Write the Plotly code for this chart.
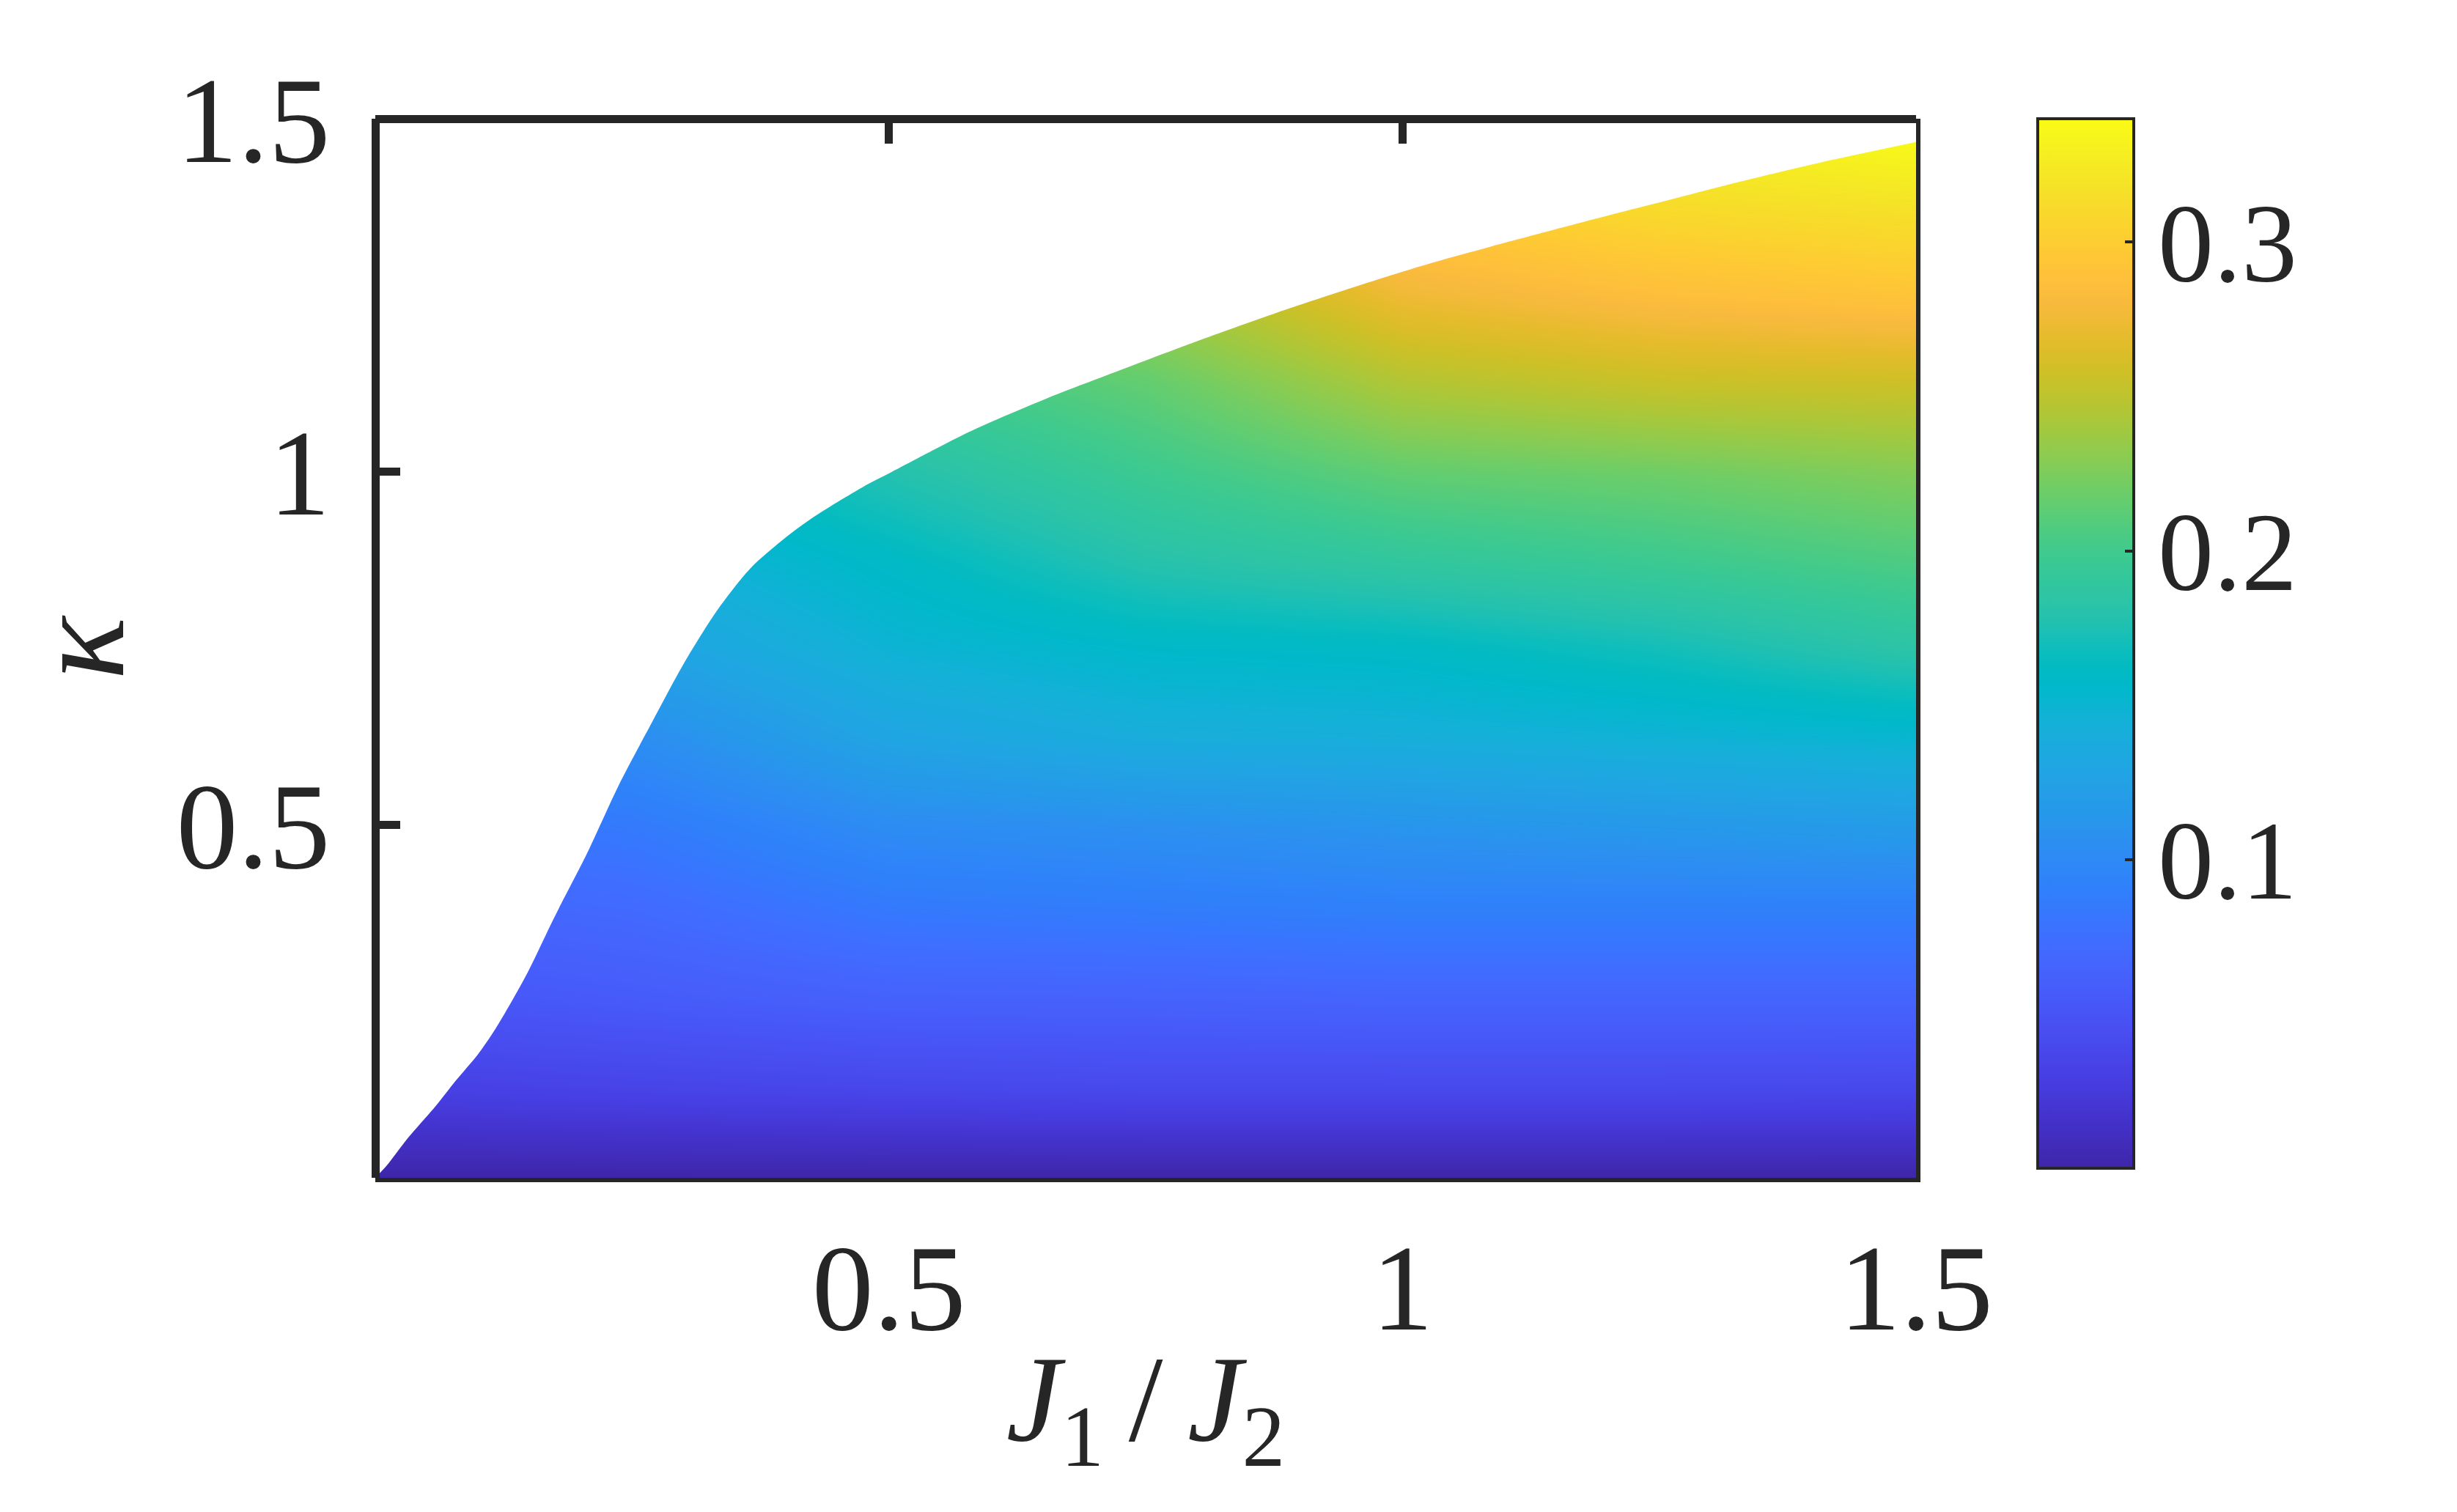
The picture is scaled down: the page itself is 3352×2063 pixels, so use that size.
import plotly.graph_objects as go

# ---------------- data ----------------
J_GRID = [0.0, 0.25, 0.5, 0.75, 1.0, 1.25, 1.5]
KAPPA_GRID = [0.0, 0.125, 0.25, 0.375, 0.5, 0.625, 0.75, 0.875, 1.0, 1.125, 1.25, 1.375, 1.5]

# colour value per kappa row (columns follow J_GRID)
Z_K0000 = [0.000, 0.000, 0.000, 0.000, 0.000, 0.000, 0.000]
Z_K0125 = [0.030, 0.034, 0.037, 0.039, 0.039, 0.039, 0.038]
Z_K0250 = [0.050, 0.056, 0.062, 0.063, 0.065, 0.065, 0.065]
Z_K0375 = [0.064, 0.070, 0.083, 0.086, 0.089, 0.089, 0.089]
Z_K0500 = [0.078, 0.085, 0.103, 0.107, 0.112, 0.116, 0.120]
Z_K0625 = [0.092, 0.104, 0.130, 0.140, 0.142, 0.147, 0.152]
Z_K0750 = [0.110, 0.127, 0.148, 0.157, 0.160, 0.170, 0.184]
Z_K0875 = [0.126, 0.142, 0.160, 0.180, 0.190, 0.198, 0.207]
Z_K1000 = [0.140, 0.157, 0.178, 0.198, 0.215, 0.220, 0.228]
Z_K1125 = [0.156, 0.174, 0.198, 0.215, 0.245, 0.255, 0.257]
Z_K1250 = [0.172, 0.192, 0.218, 0.240, 0.275, 0.286, 0.292]
Z_K1375 = [0.188, 0.210, 0.238, 0.265, 0.300, 0.312, 0.318]
Z_K1500 = [0.204, 0.228, 0.258, 0.290, 0.325, 0.335, 0.345]

# phase boundary kappa_c(J1/J2); region above it is empty
J_BOUND = [0.0, 0.011, 0.031, 0.059, 0.078, 0.100, 0.117, 0.148, 0.174, 0.206, 0.237,
           0.269, 0.301, 0.333, 0.365, 0.397, 0.428, 0.479, 0.503, 0.579, 0.654,
           0.729, 0.804, 0.879, 0.954, 1.029, 1.104, 1.179, 1.254, 1.329, 1.404, 1.5]
K_BOUND = [0.0, 0.017, 0.055, 0.102, 0.137, 0.175, 0.211, 0.290, 0.368, 0.459, 0.556,
           0.644, 0.730, 0.804, 0.863, 0.904, 0.937, 0.982, 1.000, 1.057, 1.104,
           1.146, 1.187, 1.226, 1.262, 1.296, 1.326, 1.355, 1.383, 1.411, 1.437, 1.467]

X_TICKS = [0.5, 1, 1.5]
Y_TICKS = [0.5, 1, 1.5]
C_TICKS = [0.1, 0.2, 0.3]
X_RANGE = [0.0, 1.5]
Y_RANGE = [0.0, 1.5]
C_RANGE = [0.0, 0.34]

# ---------------- style ----------------
PARULA = [
    (0.2422, 0.1504, 0.6603), (0.2504, 0.1650, 0.7076), (0.2578, 0.1818, 0.7511),
    (0.2647, 0.1978, 0.7952), (0.2706, 0.2147, 0.8364), (0.2751, 0.2342, 0.8710),
    (0.2783, 0.2559, 0.8991), (0.2803, 0.2782, 0.9221), (0.2813, 0.3006, 0.9414),
    (0.2810, 0.3228, 0.9579), (0.2795, 0.3447, 0.9717), (0.2760, 0.3667, 0.9829),
    (0.2699, 0.3892, 0.9906), (0.2602, 0.4123, 0.9952), (0.2440, 0.4358, 0.9988),
    (0.2206, 0.4603, 0.9973), (0.1963, 0.4847, 0.9892), (0.1834, 0.5074, 0.9798),
    (0.1786, 0.5289, 0.9682), (0.1764, 0.5499, 0.9520), (0.1687, 0.5703, 0.9359),
    (0.1540, 0.5902, 0.9218), (0.1460, 0.6091, 0.9079), (0.1380, 0.6276, 0.8973),
    (0.1248, 0.6459, 0.8883), (0.1113, 0.6635, 0.8763), (0.0952, 0.6798, 0.8598),
    (0.0689, 0.6948, 0.8394), (0.0297, 0.7082, 0.8163), (0.0036, 0.7203, 0.7917),
    (0.0067, 0.7312, 0.7660), (0.0433, 0.7411, 0.7394), (0.0964, 0.7500, 0.7120),
    (0.1408, 0.7584, 0.6842), (0.1717, 0.7670, 0.6554), (0.1938, 0.7758, 0.6251),
    (0.2161, 0.7843, 0.5923), (0.2470, 0.7918, 0.5567), (0.2906, 0.7973, 0.5188),
    (0.3406, 0.8008, 0.4789), (0.3909, 0.8029, 0.4354), (0.4456, 0.8024, 0.3909),
    (0.5044, 0.7993, 0.3480), (0.5616, 0.7942, 0.3045), (0.6174, 0.7876, 0.2612),
    (0.6720, 0.7793, 0.2227), (0.7242, 0.7698, 0.1910), (0.7738, 0.7598, 0.1646),
    (0.8203, 0.7498, 0.1535), (0.8634, 0.7406, 0.1596), (0.9035, 0.7330, 0.1774),
    (0.9393, 0.7288, 0.2100), (0.9728, 0.7298, 0.2394), (0.9956, 0.7434, 0.2371),
    (0.9970, 0.7659, 0.2199), (0.9952, 0.7893, 0.2028), (0.9892, 0.8136, 0.1885),
    (0.9786, 0.8386, 0.1766), (0.9676, 0.8639, 0.1643), (0.9610, 0.8890, 0.1537),
    (0.9597, 0.9135, 0.1423), (0.9628, 0.9373, 0.1265), (0.9691, 0.9606, 0.1064),
    (0.9769, 0.9839, 0.0805)]
n = len(PARULA)
COLORSCALE = [[i / (n - 1), "rgb(%d,%d,%d)" % tuple(round(255 * c) for c in rgb)]
              for i, rgb in enumerate(PARULA)]

INK = "#262626"
FONT = "Liberation Serif"
W, H = 3352, 2063
PLOT_L, PLOT_R, PLOT_T, PLOT_B = 504, 2606, 154, 1599
CB_LEFT = 2772

Z = [Z_K0000, Z_K0125, Z_K0250, Z_K0375, Z_K0500, Z_K0625, Z_K0750,
     Z_K0875, Z_K1000, Z_K1125, Z_K1250, Z_K1375, Z_K1500]

fig = go.Figure()
fig.add_trace(go.Heatmap(
    x=J_GRID, y=KAPPA_GRID, z=Z, zsmooth="best",
    colorscale=COLORSCALE, zmin=C_RANGE[0], zmax=C_RANGE[1],
    hoverinfo="skip",
    colorbar=dict(
        x=(CB_LEFT - PLOT_L) / (PLOT_R - PLOT_L), xanchor="left", xpad=0,
        y=1, yanchor="top", ypad=0, len=0.991, lenmode="fraction",
        thickness=131, outlinewidth=4, outlinecolor=INK,
        tickvals=C_TICKS, tickprefix="\u00a0\u200a",
        ticks="inside", ticklen=14, tickwidth=4, tickcolor=INK,
        tickfont=dict(family=FONT, size=152, color=INK),
    ),
))

# blank out the region above the boundary: the boundary curve, then a
# line above the plot filled back down to it
pad_x = 0.05 * (X_RANGE[1] - X_RANGE[0])
pad_y = 0.05 * (Y_RANGE[1] - Y_RANGE[0])
fig.add_trace(go.Scatter(
    x=J_BOUND, y=K_BOUND, mode="lines",
    line=dict(width=0, color="white", shape="spline", smoothing=0.8),
    hoverinfo="skip", showlegend=False))
fig.add_trace(go.Scatter(
    x=[X_RANGE[0] - pad_x, X_RANGE[1] + pad_x],
    y=[Y_RANGE[1] + pad_y, Y_RANGE[1] + pad_y],
    mode="lines", fill="tonexty", fillcolor="white",
    line=dict(width=0, color="white"), hoverinfo="skip", showlegend=False))

# helper traces so that the top and right frame axes exist
fig.add_trace(go.Scatter(x=[None], y=[None], xaxis="x2", yaxis="y",
                         hoverinfo="skip", showlegend=False))
fig.add_trace(go.Scatter(x=[None], y=[None], xaxis="x", yaxis="y2",
                         hoverinfo="skip", showlegend=False))

common = dict(showgrid=False, zeroline=False, linecolor=INK, tickcolor=INK)

fig.update_layout(
    width=W, height=H,
    margin=dict(l=PLOT_L, r=W - PLOT_R, t=PLOT_T, b=H - PLOT_B, pad=0),
    paper_bgcolor="white", plot_bgcolor="white",
    font=dict(family=FONT, color=INK),
    showlegend=False,
    xaxis=dict(range=X_RANGE, tickvals=X_TICKS, ticks="", showline=True,
               linewidth=5.5, tickfont=dict(size=168, family=FONT, color=INK),
               ticklabelstandoff=0,
               title=dict(text="<i>J</i><sub>1</sub>\u2009/\u2009<i>J</i><sub>2</sub>",
                          font=dict(size=168, family=FONT, color=INK), standoff=0),
               **common),
    yaxis=dict(range=Y_RANGE, anchor="free", position=0, tickvals=Y_TICKS,
               ticks="inside", ticklen=28, tickwidth=11, showline=True, linewidth=11,
               tickfont=dict(size=168, family=FONT, color=INK), ticklabelstandoff=23,
               title=dict(text="<i>κ</i>", font=dict(size=180, family=FONT, color=INK),
                          standoff=95),
               **common),
    xaxis2=dict(overlaying="x", anchor="free", position=1, side="top", range=X_RANGE,
                tickvals=[0.5, 1], ticks="inside", ticklen=28, tickwidth=11,
                showticklabels=False, showline=True, linewidth=11, **common),
    yaxis2=dict(overlaying="y", anchor="x", side="right", range=Y_RANGE,
                ticks="", showticklabels=False, showline=True, linewidth=5.5, **common),
)

fig.write_html("out.html")
